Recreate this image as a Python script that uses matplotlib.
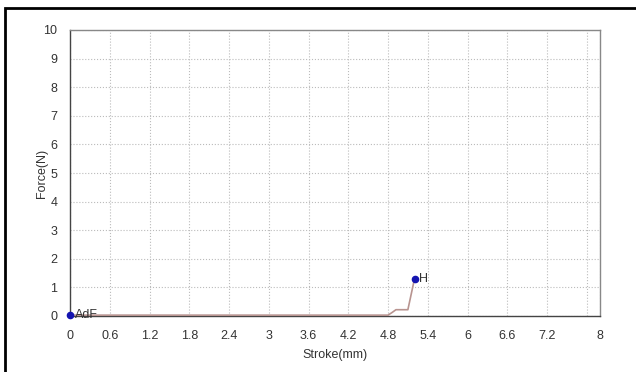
import matplotlib
matplotlib.use('Agg')
from matplotlib import pyplot as plt
from matplotlib.patches import Rectangle

plt.rcParams['font.family'] = ['Liberation Sans', 'DejaVu Sans']

# force curve
stroke = [0.0, 0.4, 1.0, 2.0, 3.0, 4.0, 4.8, 4.86, 4.92, 5.1, 5.2]
force = [0.03, 0.03, 0.03, 0.03, 0.03, 0.03, 0.03, 0.12, 0.22, 0.22, 1.3]

# marked points
pt_names = ['AdF', 'H']
pt_x = [0.0, 5.2]
pt_y = [0.05, 1.3]

x_ticks = [0, 0.6, 1.2, 1.8, 2.4, 3, 3.6, 4.2, 4.8, 5.4, 6, 6.6, 7.2, 8]
x_labels = ['0', '0.6', '1.2', '1.8', '2.4', '3', '3.6', '4.2', '4.8', '5.4', '6', '6.6', '7.2', '8']
y_ticks = list(range(11))

fig = plt.figure(figsize=(6.36, 3.72), dpi=100)
ax = fig.add_axes([70 / 636, 56 / 372, 530 / 636, 286 / 372])

ax.plot(stroke, force, color='#b89490', lw=1.2, zorder=3)
ax.scatter(pt_x, pt_y, s=20, color='#1414b0', zorder=4, clip_on=False)
for n, x, y in zip(pt_names, pt_x, pt_y):
    ax.text(x + 0.07, y, n, fontsize=9, va='center', ha='left', color='#333333', zorder=5)

ax.set_xlim(0, 8)
ax.set_ylim(0, 10)
ax.set_xticks(x_ticks)
ax.set_xticklabels(x_labels)
ax.set_xticks([7.8], minor=True)
ax.set_yticks(y_ticks)
ax.tick_params(which='both', length=0, labelsize=9, colors='#333333')
ax.tick_params(axis='x', pad=10)
ax.tick_params(axis='y', pad=9)
ax.grid(True, which='both', color='#bbbbbb', linestyle=':', linewidth=0.8)
ax.set_axisbelow(True)
for s in ax.spines.values():
    s.set_color('#888888')
    s.set_linewidth(1.0)
ax.spines['left'].set_color('#444444')
ax.spines['bottom'].set_color('#444444')

ax.set_xlabel('Stroke(mm)', fontsize=9, color='#333333', labelpad=5)
ax.set_ylabel('Force(N)', fontsize=9, color='#333333', labelpad=-3)

# outer frame (only top and left visible)
fig.patches.append(Rectangle((5 / 636, -0.05), 1.2, (364 / 372) + 0.05, transform=fig.transFigure,
                             fill=False, edgecolor='black', linewidth=2))

fig.savefig('out.png', dpi=100)
